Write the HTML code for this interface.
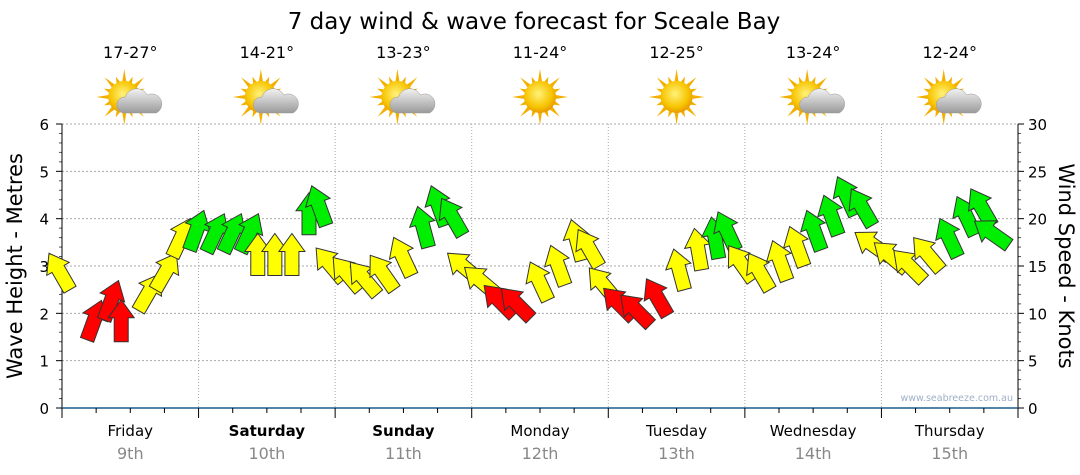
<!DOCTYPE html>
<html><head><meta charset="utf-8"><style>
html,body{margin:0;padding:0;background:#fff;width:1080px;height:475px;overflow:hidden}
svg text{font-family:"DejaVu Sans","Liberation Sans",sans-serif}
</style></head><body>
<svg id="chart" width="1080" height="475" viewBox="0 0 1080 475" xmlns="http://www.w3.org/2000/svg">
<defs>
<radialGradient id="sunG" cx="0.45" cy="0.4" r="0.6"><stop offset="0" stop-color="#fff27a"/><stop offset="0.7" stop-color="#f7c400"/><stop offset="1" stop-color="#e89a00"/></radialGradient>
<linearGradient id="cloudG" x1="0" y1="0" x2="0" y2="1"><stop offset="0" stop-color="#f2f2f2"/><stop offset="1" stop-color="#9a9a9a"/></linearGradient>
</defs>
<text x="534" y="29" text-anchor="middle" font-size="23" fill="#000">7 day wind &amp; wave forecast for Sceale Bay</text>
<g id="grid"></g>
<g id="axes"></g>
<g id="icons"></g>
<g id="arrows"></g>
<text transform="translate(22,266) rotate(-90)" text-anchor="middle" font-size="21" fill="#000">Wave Height - Metres</text>
<text transform="translate(1059,266) rotate(90)" text-anchor="middle" font-size="21" fill="#000">Wind Speed - Knots</text>
<text x="1013" y="401" text-anchor="end" font-size="9.5" fill="#9fb0c8">www.seabreeze.com.au</text>
</svg>
<script>
const days=["Friday","Saturday","Sunday","Monday","Tuesday","Wednesday","Thursday"];
const dates=["9th","10th","11th","12th","13th","14th","15th"];
const boldDays=[false,true,true,false,false,false,false];
const temps=["17-27°","14-21°","13-23°","11-24°","12-25°","13-24°","12-24°"];
const cloudy=[true,true,true,false,false,true,true];
const waveTicks=[0,1,2,3,4,5,6];
const windTicks=[0,5,10,15,20,25,30];
const windKnots=[12.5,7.2,9.3,7,10.3,12.5,16,16.7, 16.5,16.5,16.5,14,14,14,18.3,19.3, 13.5,12.5,12,12.5,14,17,19.3,18.3, 13.5,12,9.8,9.5,11.4,13,15.6,15, 11.4,9.5,8.8,9.8,12.5,14.6,15.8,16.7, 13.5,12.5,13.5,15,16.7,18.3,20.4,19.3, 16,14.6,13.5,14.6,16,18.3,19.3,17.2];
const windDir=[-30,20,20,0,30,30,25,20, 25,25,25,0,0,0,0,-20, -40,-40,-40,-35,-25,-15,-20,-30, -50,-50,-45,-45,-25,-20,-15,-30, -40,-45,-45,-30,-15,-10,-10,-25, -35,-30,-20,-20,-20,-20,-25,-30, -55,-50,-45,-40,-25,-25,-30,-55];
const windRating=["y","r","r","r","y","y","y","g", "g","g","g","y","y","y","g","g", "y","y","y","y","y","g","g","g", "y","y","r","r","y","y","y","y", "y","r","r","r","y","y","g","g", "y","y","y","y","g","g","g","g", "y","y","y","y","g","g","g","g"];
const colors={r:"#ff0000",y:"#ffff00",g:"#00ee00"};
const NS="http://www.w3.org/2000/svg";
const X0=62,X1=1018,Y0=408,Y1=124;
const xDay=d=>X0+d*(X1-X0)/7;
const xStep=i=>X0+i*(X1-X0)/56;
const yWave=v=>Y0-(v/6)*(Y0-Y1);
const yWind=v=>Y0-(v/30)*(Y0-Y1);
function mk(tag,attrs,parent){const e=document.createElementNS(NS,tag);for(const k in attrs)e.setAttribute(k,attrs[k]);parent.appendChild(e);return e;}
const grid=document.getElementById('grid'),axes=document.getElementById('axes'),icons=document.getElementById('icons'),arrows=document.getElementById('arrows');
waveTicks.forEach(v=>{if(v>0){const l=mk('line',{x1:X0,x2:X1,y1:yWave(v),y2:yWave(v),stroke:'#aaa','stroke-dasharray':'2,2'},grid);

}
const t=mk('text',{x:49,y:yWave(v)+6,'text-anchor':'end','font-size':'15',fill:'#000'},axes);t.textContent=v;


mk('line',{x1:X0-6,x2:X0,y1:yWave(v),y2:yWave(v),stroke:'#000'},axes);
if(v<6)for(let k=1;k<5;k++)mk('line',{x1:X0-3,x2:X0,y1:yWave(v+k*0.2),y2:yWave(v+k*0.2),stroke:'#555'},axes);});
windTicks.forEach(v=>{const t=mk('text',{x:1028,y:yWind(v)+6,'font-size':'15',fill:'#000'},axes);t.textContent=v;


mk('line',{x1:X1,x2:X1+6,y1:yWind(v),y2:yWind(v),stroke:'#000'},axes);
if(v<30)for(let k=1;k<5;k++)mk('line',{x1:X1,x2:X1+3,y1:yWind(v+k),y2:yWind(v+k),stroke:'#555'},axes);});
mk('line',{x1:X0,x2:X0,y1:Y1,y2:Y0,stroke:'#000'},axes);
mk('line',{x1:X1,x2:X1,y1:Y1,y2:Y0,stroke:'#000'},axes);
mk('line',{x1:X0,x2:X1,y1:Y0,y2:Y0,stroke:'#1c5c8c','stroke-width':1.5},axes);
for(let i=0;i<=28;i++){const x=X0+i*(X1-X0)/28;mk('line',{x1:x,x2:x,y1:Y0,y2:Y0+(i%4==0?10:5),stroke:'#000'},axes);}
days.forEach((d,i)=>{
 if(i>0){const g=mk('line',{x1:xDay(i),x2:xDay(i),y1:Y1,y2:Y0,stroke:'#aaa','stroke-dasharray':'1,2'},grid);
 
 }
 const cx=(xDay(i)+xDay(i+1))/2;
 const t=mk('text',{x:cx,y:436,'text-anchor':'middle','font-size':'15','font-weight':boldDays[i]?'bold':'normal',fill:'#000'},axes);t.textContent=d;
 
 
 const t2=mk('text',{x:cx,y:459,'text-anchor':'middle','font-size':'16',fill:'#888'},axes);t2.textContent=dates[i];
 
 
 const t3=mk('text',{x:cx,y:58,'text-anchor':'middle','font-size':'16',fill:'#000'},icons);t3.textContent=temps[i];
 
 
 const g=mk('g',{transform:`translate(${cx},97)`},icons);
 
 
 const sx=cloudy[i]?-6:0;
 for(let k=0;k<16;k++){const a=k*Math.PI/8,r1=15,r2=(k%2?22:28);
  mk('polygon',{points:`${sx+Math.cos(a-0.14)*r1},${Math.sin(a-0.14)*r1} ${sx+Math.cos(a)*r2},${Math.sin(a)*r2} ${sx+Math.cos(a+0.14)*r1},${Math.sin(a+0.14)*r1}`,fill:'#f4b000'},g);}
 mk('circle',{cx:sx,cy:0,r:16,fill:'url(#sunG)'},g);
 if(cloudy[i]){mk('path',{d:'M-6,16 a8,8 0 0 1 1,-16 a12,12 0 0 1 22,-2 a9,9 0 0 1 9,18 z',fill:'url(#cloudG)',stroke:'#999','stroke-width':0.5},g);}
});
windKnots.forEach((v,i)=>{
 const x=xStep(i)+8,y=yWind(v);
 const g=mk('g',{transform:`translate(${x},${y}) rotate(${windDir[i]})`},arrows);
 
 
 mk('polygon',{points:'-7,0 7,0 7,-24 13,-24 0,-42 -13,-24 -7,-24',fill:colors[windRating[i]],stroke:'#333','stroke-width':1,'stroke-linejoin':'miter'},g);
});
</script>
</body></html>
